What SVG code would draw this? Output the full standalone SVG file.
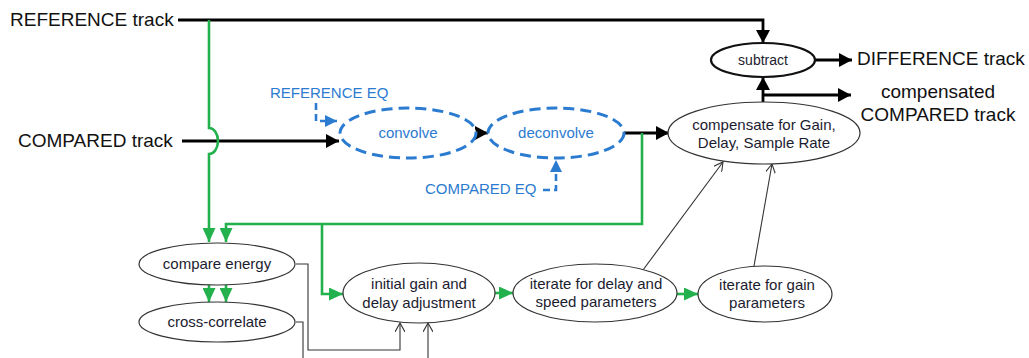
<svg xmlns="http://www.w3.org/2000/svg" width="1029" height="358" viewBox="0 0 1029 358">
<style>
  .big { font-family: "Liberation Sans", Arial, sans-serif; font-size: 19px; fill: #111; }
  .eq { font-family: "Liberation Sans", Arial, sans-serif; font-size: 15px; fill: #2b7bd0; }
  .lbl { font-family: "Liberation Sans", Arial, sans-serif; font-size: 15px; fill: #1c1c30; text-anchor: middle; }
  .blbl { font-family: "Liberation Sans", Arial, sans-serif; font-size: 15px; fill: #2b7bd0; text-anchor: middle; }
  .node { fill: #fff; stroke: #333; stroke-width: 1.2; }
  .bnode { fill: #fff; stroke: #2b7bd0; stroke-width: 3; stroke-dasharray: 11 6; }
  .thick { fill: none; stroke: #000; stroke-width: 2.8; }
  .green { fill: none; stroke: #22b14c; stroke-width: 2.6; }
  .blue { fill: none; stroke: #2b7bd0; stroke-width: 2.6; stroke-dasharray: 7 4; }
  .thin { fill: none; stroke: #333; stroke-width: 1.1; }
</style>
<defs>
  <marker id="ab" markerUnits="userSpaceOnUse" markerWidth="14" markerHeight="14" refX="13" refY="7" orient="auto">
    <path d="M0,0 L13,7 L0,14 z" fill="#000"/>
  </marker>
  <marker id="ag" markerUnits="userSpaceOnUse" markerWidth="14" markerHeight="13" refX="14" refY="6.5" orient="auto">
    <path d="M0,0 L14,6.5 L0,13 z" fill="#22b14c"/>
  </marker>
  <marker id="abl" markerUnits="userSpaceOnUse" markerWidth="12" markerHeight="12" refX="12" refY="6" orient="auto">
    <path d="M0,0 L12,6 L0,12 z" fill="#2b7bd0"/>
  </marker>
  <marker id="ao" markerUnits="userSpaceOnUse" markerWidth="10" markerHeight="10" refX="9" refY="5" orient="auto">
    <path d="M0,0 L9,5 L0,10" fill="none" stroke="#333" stroke-width="1.1"/>
  </marker>
</defs>

<g id="connectors">
  <!-- REFERENCE track to subtract -->
  <path class="thick" d="M178,20 H763 V43" marker-end="url(#ab)"/>
  <!-- COMPARED track to convolve -->
  <path class="thick" d="M182,141 H339" marker-end="url(#ab)"/>
  <!-- convolve to deconvolve -->
  <path class="thick" d="M476,133 H488" marker-end="url(#ab)"/>
  <!-- deconvolve to compensate -->
  <path class="thick" d="M624,133 H669" marker-end="url(#ab)"/>
  <!-- compensate to subtract -->
  <path class="thick" d="M763,102 V77" marker-end="url(#ab)"/>
  <!-- compensate to compensated output -->
  <path class="thick" d="M763,95 H851" marker-end="url(#ab)"/>
  <!-- subtract to DIFFERENCE -->
  <path class="thick" d="M815,60 H852" marker-end="url(#ab)"/>

  <!-- green: reference track down to compare energy, hopping over COMPARED line -->
  <path class="green" d="M209,20 V128 A9 13 0 0 1 209,154 V242" marker-end="url(#ag)"/>
  <!-- green: from after deconvolve to compare energy -->
  <path class="green" d="M642,133 V224 H226 V242" marker-end="url(#ag)"/>
  <!-- green branch to initial gain -->
  <path class="green" d="M322,224 V294 H343" marker-end="url(#ag)"/>
  <!-- compare energy to cross-correlate -->
  <path class="green" d="M209,285 V302" marker-end="url(#ag)"/>
  <path class="green" d="M226,285 V302" marker-end="url(#ag)"/>
  <!-- initial to iterate delay -->
  <path class="green" d="M495,293 H513" marker-end="url(#ag)"/>
  <!-- iterate delay to iterate gain -->
  <path class="green" d="M677,294 H698" marker-end="url(#ag)"/>

  <!-- blue EQ inputs -->
  <path class="blue" d="M316,103 V121 H337" marker-end="url(#abl)"/>
  <path class="blue" d="M543,190 H556 V160" marker-end="url(#abl)"/>

  <!-- thin connectors -->
  <path class="thin" d="M296,264 H308 V350 H400 V323" marker-end="url(#ao)"/>
  <path class="thin" d="M296,322 H303 V360"/>
  <path class="thin" d="M428,360 V323" marker-end="url(#ao)"/>
  <path class="thin" d="M643,270 L723,162" marker-end="url(#ao)"/>
  <path class="thin" d="M754,266 L772,164" marker-end="url(#ao)"/>
</g>

<g id="reference-track"><text class="big" x="10" y="26">REFERENCE track</text></g>
<g id="compared-track"><text class="big" x="18" y="147">COMPARED track</text></g>
<g id="difference-track"><text class="big" x="857" y="65">DIFFERENCE track</text></g>
<g id="compensated-compared-track">
  <text class="big" x="938" y="98" text-anchor="middle">compensated</text>
  <text class="big" x="938" y="121" text-anchor="middle">COMPARED track</text>
</g>
<g id="reference-eq"><text class="eq" x="270" y="98">REFERENCE EQ</text></g>
<g id="compared-eq"><text class="eq" x="425" y="194">COMPARED EQ</text></g>

<g id="convolve">
  <ellipse class="bnode" cx="408" cy="133" rx="68" ry="25"/>
  <text class="blbl" x="408" y="138">convolve</text>
</g>
<g id="deconvolve">
  <ellipse class="bnode" cx="556" cy="133" rx="68" ry="25"/>
  <text class="blbl" x="556" y="138">deconvolve</text>
</g>
<g id="compensate">
  <ellipse class="node" cx="764" cy="133" rx="96" ry="31"/>
  <text class="lbl" x="764" y="130">compensate for Gain,</text>
  <text class="lbl" x="764" y="148">Delay, Sample Rate</text>
</g>
<g id="subtract">
  <ellipse class="node" cx="763" cy="60" rx="52" ry="17" style="stroke:#111;stroke-width:2.2"/>
  <text class="lbl" x="763" y="65" style="font-size:14px">subtract</text>
</g>
<g id="compare-energy">
  <ellipse class="node" cx="217" cy="264" rx="78" ry="21"/>
  <text class="lbl" x="217" y="269">compare energy</text>
</g>
<g id="cross-correlate">
  <ellipse class="node" cx="217" cy="322" rx="78" ry="20"/>
  <text class="lbl" x="217" y="327">cross-correlate</text>
</g>
<g id="initial-gain">
  <ellipse class="node" cx="419" cy="293" rx="76" ry="30"/>
  <text class="lbl" x="419" y="289">initial gain and</text>
  <text class="lbl" x="419" y="308">delay adjustment</text>
</g>
<g id="iterate-delay">
  <ellipse class="node" cx="595" cy="293" rx="82" ry="29"/>
  <text class="lbl" x="596" y="289">iterate for delay and</text>
  <text class="lbl" x="596" y="307">speed parameters</text>
</g>
<g id="iterate-gain">
  <ellipse class="node" cx="765" cy="294" rx="67" ry="28"/>
  <text class="lbl" x="767" y="290">iterate for gain</text>
  <text class="lbl" x="767" y="308">parameters</text>
</g>
</svg>
